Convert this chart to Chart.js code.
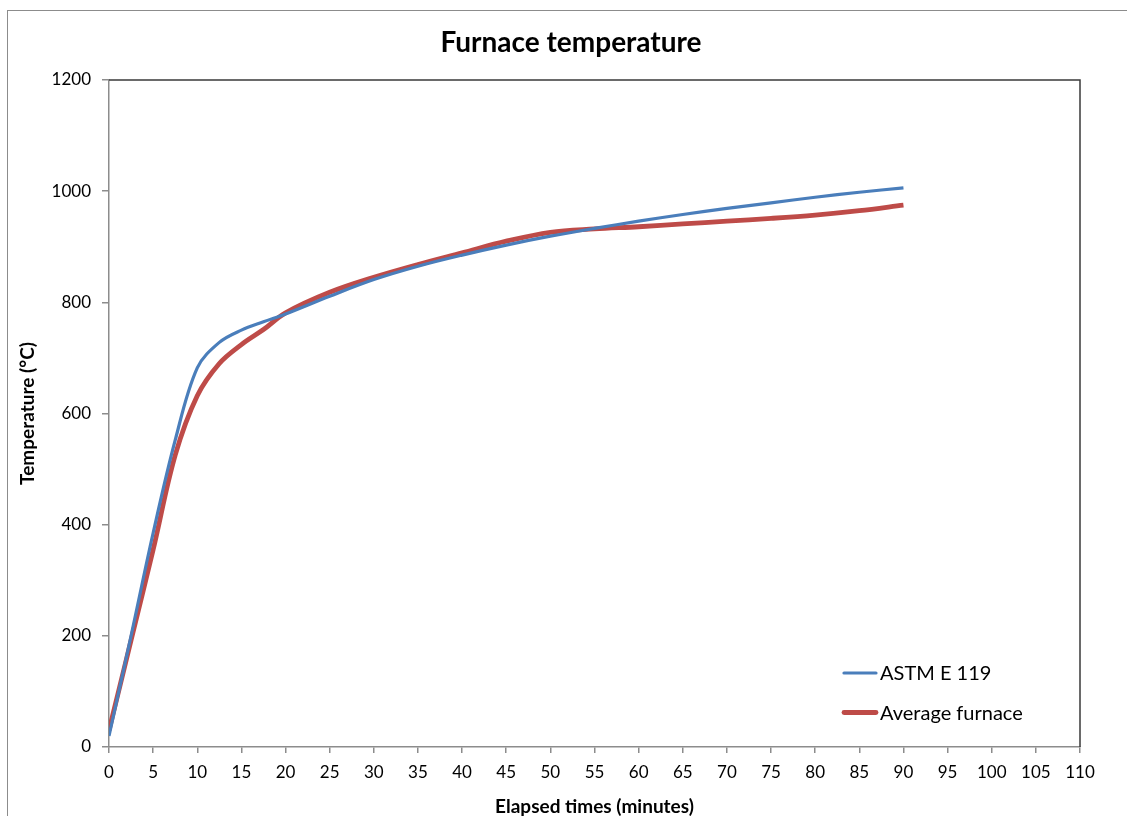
<!DOCTYPE html>
<html>
<head>
<meta charset="utf-8">
<title>Furnace temperature</title>
<script src="https://cdn.jsdelivr.net/npm/chart.js@4.4.1/dist/chart.umd.min.js"></script>
<style>
    html, body { margin: 0; padding: 0; background: #fff; overflow: hidden; }
    #frame { position: absolute; left: 7px; top: 10px; width: 1300px; height: 1000px; border: 1.5px solid #8c8c8c; }
    #chart { position: absolute; left: 0; top: 0; }
</style>
</head>
<body>
<div id="frame"></div>
<canvas id="chart" width="1127" height="816"></canvas>
<script>
"use strict";

// Tid i minuter och temperaturer
const minutes = [0, 2.5, 5, 7.5, 10, 12.5, 15, 17.5, 20, 25, 30, 35, 40, 45, 50, 55, 60, 65, 70, 75, 80, 85, 90];
const astmE119 = [20, 200, 385, 552, 682, 728, 750, 765, 779, 811, 841, 865, 885, 903, 919, 933, 946, 958, 969, 979, 989, 998, 1006];
const averageFurnace = [30, 192, 355, 525, 632, 690, 724, 751, 781, 818, 845, 868, 889, 910, 926, 932, 936, 941, 946, 951, 957, 965, 975];

const seriesNames = ['ASTM E 119', 'Average furnace'];
const xTicks = [0, 5, 10, 15, 20, 25, 30, 35, 40, 45, 50, 55, 60, 65, 70, 75, 80, 85, 90, 95, 100, 105, 110];
const yTicks = [0, 200, 400, 600, 800, 1000, 1200];

const FONT = "Lato, 'Open Sans', 'DejaVu Sans', sans-serif";

/**
 * Ritar titel, ram runt ritytan och förklaring
 */
const decorations = {
    id: 'decorations',
    afterDraw(chart) {
        const ctx = chart.ctx;
        const area = chart.chartArea;
        ctx.save();

        // ram upptill och till höger
        ctx.strokeStyle = '#3a3a3a';
        ctx.lineWidth = 1.5;
        ctx.beginPath();
        ctx.moveTo(area.left, area.top);
        ctx.lineTo(area.right, area.top);
        ctx.lineTo(area.right, area.bottom);
        ctx.stroke();

        // titel
        ctx.fillStyle = '#000';
        ctx.font = "bold 28px " + FONT;
        ctx.textAlign = 'center';
        ctx.textBaseline = 'middle';
        ctx.fillText('Furnace temperature', 571, 43);

        // förklaring
        ctx.font = "20px " + FONT;
        ctx.textAlign = 'left';
        chart.data.datasets.forEach((ds, i) => {
            const y = 673 + i * 39.5;
            ctx.strokeStyle = ds.borderColor;
            ctx.lineWidth = ds.borderWidth;
            ctx.lineCap = 'round';
            ctx.beginPath();
            ctx.moveTo(844, y);
            ctx.lineTo(876, y);
            ctx.stroke();
            ctx.fillText(ds.label, 880, y + 1);
        });
        ctx.restore();
    }
};

function toPoints(values) {
    return values.map((v, i) => ({ x: minutes[i], y: v }));
}

new Chart(document.getElementById('chart'), {
    type: 'line',
    data: {
        datasets: [{
            label: seriesNames[0],
            data: toPoints(astmE119),
            borderColor: '#4a7ebb',
            borderWidth: 3.2,
            pointRadius: 0,
            tension: 0.35,
            fill: false
        }, {
            label: seriesNames[1],
            data: toPoints(averageFurnace),
            borderColor: '#be4b48',
            borderWidth: 4.8,
            pointRadius: 0,
            tension: 0.35,
            fill: false
        }]
    },
    options: {
        responsive: false,
        animation: false,
        layout: { padding: { top: 80, right: 47, left: 0, bottom: 0 } },
        plugins: {
            legend: { display: false },
            title: { display: false },
            tooltip: { enabled: false }
        },
        scales: {
            x: {
                type: 'linear',
                min: 0,
                max: 110,
                afterFit: scale => { scale.height = 69; },
                afterBuildTicks: scale => { scale.ticks = xTicks.map(v => ({ value: v })); },
                border: { color: '#8c8c8c', width: 1.5 },
                grid: { drawOnChartArea: false, drawTicks: true, tickLength: 6, color: '#8c8c8c', lineWidth: 1.5 },
                ticks: { autoSkip: false, maxRotation: 0, padding: 9, color: '#000', font: { family: FONT, size: 17 }, callback: v => String(v) },
                title: {
                    display: true,
                    text: 'Elapsed times (minutes)',
                    color: '#000',
                    font: { family: FONT, size: 19, weight: 'bold', lineHeight: 1 },
                    padding: { top: 0, bottom: 0 }
                }
            },
            y: {
                min: 0,
                max: 1200,
                afterFit: scale => { scale.width = 109; },
                afterBuildTicks: scale => { scale.ticks = yTicks.map(v => ({ value: v })); },
                border: { color: '#8c8c8c', width: 1.5 },
                grid: { drawOnChartArea: false, drawTicks: true, tickLength: 7, color: '#8c8c8c', lineWidth: 1.5 },
                ticks: { padding: 11, color: '#000', font: { family: FONT, size: 17 }, callback: v => String(v) },
                title: {
                    display: true,
                    text: 'Temperature (°C)',
                    color: '#000',
                    font: { family: FONT, size: 19, weight: 'bold', lineHeight: 1 },
                    padding: { top: 18, bottom: 0 }
                }
            }
        }
    },
    plugins: [decorations]
});
</script>
</body>
</html>
